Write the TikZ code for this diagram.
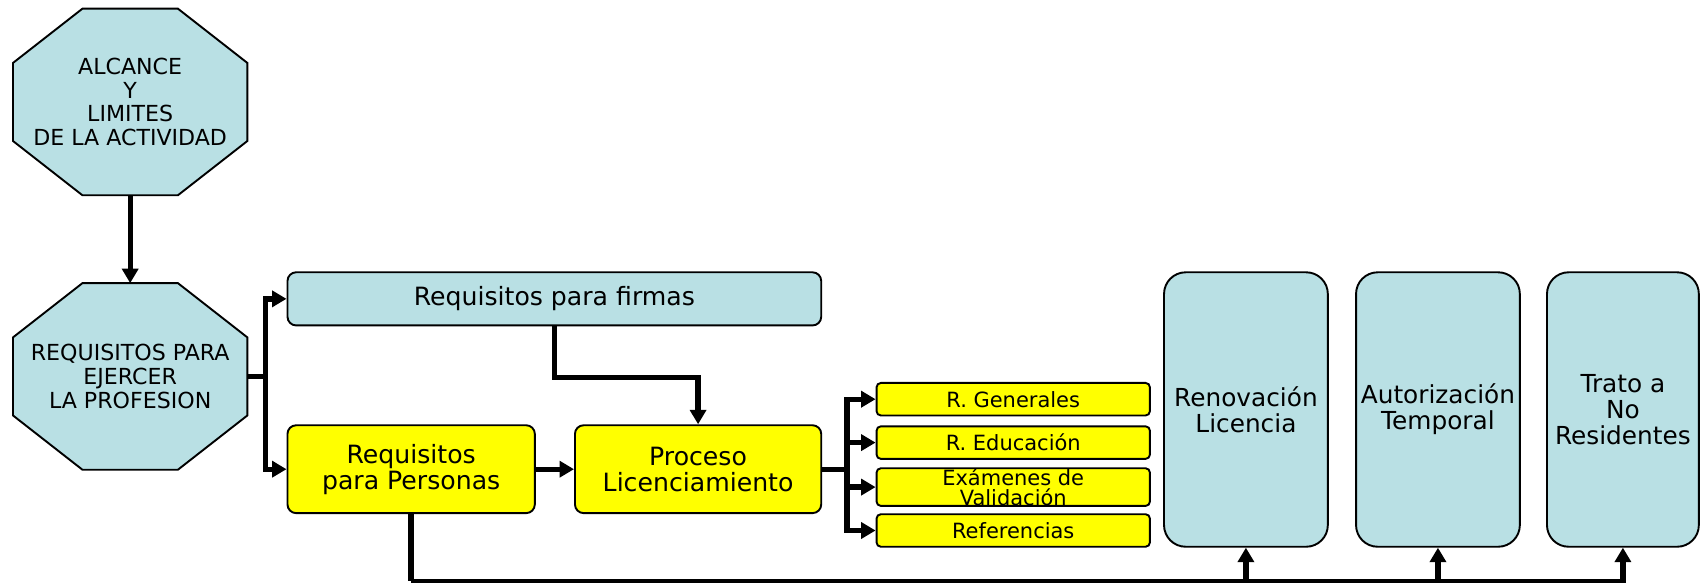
\documentclass[tikz,border=0pt]{standalone}
\usepackage{fontspec}
\setmainfont{DejaVu Sans}
\usetikzlibrary{arrows.meta,positioning,backgrounds}
\definecolor{paleblue}{RGB}{185,224,228}
\definecolor{boxyellow}{RGB}{255,255,0}

\begin{document}
\begin{tikzpicture}[
        hub/.style={rectangle, inner sep=0pt, outer sep=0pt, minimum width=2.16cm, minimum height=1.72cm,
                align=center, font=\fontsize{5.8}{6.2}\selectfont},
        octline/.style={draw=black, fill=paleblue, line width=0.5pt},
        bluebox/.style={draw, fill=paleblue, rounded corners=0.08cm, line width=0.5pt, inner sep=0pt,
                align=center, font=\fontsize{6.6}{6.8}\selectfont},
        yellowbox/.style={bluebox, fill=boxyellow},
        smallbox/.style={draw, fill=boxyellow, rounded corners=0.04cm, line width=0.5pt, inner sep=0pt,
                minimum width=2.52cm, minimum height=0.30cm, align=center, font=\fontsize{5.5}{5.4}\selectfont},
        tallbox/.style={draw, fill=paleblue, rounded corners=0.2cm, line width=0.5pt, inner sep=0pt,
                minimum height=2.53cm, align=center, font=\fontsize{6.5}{6.8}\selectfont},
        conn/.style={line width=1.4pt},
        connarrow/.style={conn, -{Triangle[length=3.8pt,width=4.2pt]}}]
        \useasboundingbox (0, 0) rectangle (15.68, 5.37);

        % octagons
        \node[hub] (alcance) at (1.20, 4.43) {ALCANCE\\Y\\LIMITES\\DE LA ACTIVIDAD};
        \node[hub] (ejercer) at (1.20, 1.90) {REQUISITOS PARA\\EJERCER\\LA PROFESION};
        \begin{scope}[on background layer]
                \foreach \n in {alcance, ejercer}
                        \draw[octline] ([xshift=0.64cm]\n.north west) -- ([xshift=-0.64cm]\n.north east)
                                -- ([yshift=-0.5cm]\n.north east) -- ([yshift=0.5cm]\n.south east)
                                -- ([xshift=-0.64cm]\n.south east) -- ([xshift=0.64cm]\n.south west)
                                -- ([yshift=0.5cm]\n.south west) -- ([yshift=-0.5cm]\n.north west) -- cycle;
        \end{scope}

        % boxes
        \node[bluebox, minimum width=4.92cm, minimum height=0.49cm] (firmas) at (5.11, 2.615) {Requisitos para firmas};
        \node[yellowbox, minimum width=2.28cm, minimum height=0.81cm] (personas) at (3.79, 1.045) {Requisitos\\para Personas};
        \node[yellowbox, minimum width=2.27cm, minimum height=0.81cm] (proceso) at (6.435, 1.045) {Proceso\\Licenciamiento};

        \node[smallbox] (generales) at (9.34, 1.69) {R. Generales};
        \node[smallbox] (educacion) at (9.34, 1.29) {R. Educación};
        \node[smallbox] (examenes) at (9.34, 0.88) {Exámenes de\\Validación};
        \node[smallbox] (referencias) at (9.34, 0.48) {Referencias};

        \node[tallbox, minimum width=1.51cm] (renovacion) at (11.485, 1.595) {Renovación\\Licencia};
        \node[tallbox, minimum width=1.51cm] (autorizacion) at (13.255, 1.595) {Autorización\\Temporal};
        \node[tallbox, minimum width=1.40cm] (trato) at (14.96, 1.595) {Trato a\\No\\Residentes};

        % connectors
        \draw[connarrow] (alcance) -- (ejercer);
        \draw[conn] (ejercer.east) -- ++(0.17, 0) coordinate (split);
        \draw[connarrow] (split) |- (firmas);
        \draw[connarrow] (split) |- (personas);
        \draw[connarrow] (personas) -- (proceso);
        \draw[connarrow] (firmas.south) -- ++(0, -0.47) -| (proceso);
        \draw[conn] (proceso.east) -- ++(0.23, 0) coordinate (fan);
        \foreach \b in {generales, educacion, examenes, referencias}
                \draw[connarrow] (fan) |- (\b);
        \draw[conn] (personas.south) -- ++(0, -0.62) coordinate (low);
        \foreach \t in {renovacion, autorizacion, trato}
                \draw[connarrow] (low) -| (\t);
\end{tikzpicture}
\end{document}
